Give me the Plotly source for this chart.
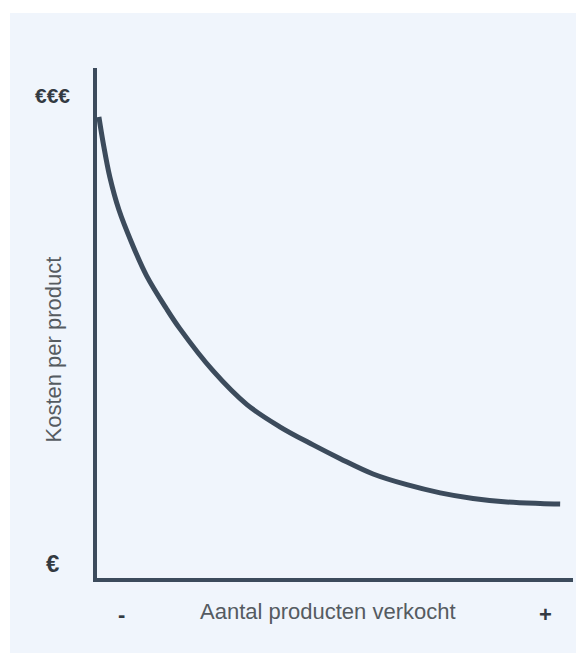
import plotly.graph_objects as go

# Curve: units sold (x, 0-100) vs cost per product (y, 0-100)
units_sold = [0.4, 1.3, 2.7, 4.6, 7.3, 10.4, 14.6, 17.4, 24.4, 31.5, 38.5,
              45.4, 51.1, 58.0, 65.1, 72.1, 79.0, 86.1, 93.1, 97.3]
cost_per_product = [90.4, 85.3, 78.6, 72.2, 65.7, 59.3, 52.8, 48.9, 40.6, 34.0, 29.6,
                    26.1, 23.4, 20.4, 18.3, 16.7, 15.6, 14.9, 14.6, 14.5]

x_tick_positions = [0.0525, 0.943]   # fraction of x axis
x_tick_labels = ["-", "+"]
y_tick_positions = [0.029, 0.947]    # fraction of y axis
y_tick_labels = ["€", "€€€"]

x_title = "Aantal producten verkocht"
y_title = "Kosten per product"

DARK = "#3c4b5c"
PANEL = "#f0f5fc"
FONT = "Liberation Sans, Arial, sans-serif"

# page has an 8px body margin -> figure coordinates = page coordinates - 8
OFF = 8
W, H = 584 - OFF, 653 - OFF
PX0, PX1, PY0, PY1 = 97, 573, 68, 578   # plot area on the page
L, R, T, B = PX0 - OFF, W - (PX1 - OFF), PY0 - OFF, H - (PY1 - OFF)
pw, ph = PX1 - PX0, PY1 - PY0


def px(xp):
    return (xp - PX0) / pw


def py(yp):
    return (PY1 - yp) / ph


fig = go.Figure()
fig.add_trace(go.Scatter(
    x=units_sold, y=cost_per_product, mode="lines",
    line=dict(color=DARK, width=5, shape="spline", smoothing=1.0),
    hoverinfo="skip", showlegend=False,
))

# light-blue panel behind everything
fig.add_shape(type="rect", xref="paper", yref="paper", layer="below",
              x0=px(10), x1=px(590), y0=py(660), y1=py(13),
              fillcolor=PANEL, line=dict(width=0))

annotations = []
for xv, lab in zip(x_tick_positions, x_tick_labels):
    annotations.append(dict(x=xv, y=py(614), xref="paper", yref="paper", text=f"<b>{lab}</b>",
                            showarrow=False, xanchor="center", yanchor="middle",
                            font=dict(family=FONT, size=22, color="#333a42")))
for yv, lab in zip(y_tick_positions, y_tick_labels):
    size = 24 if lab == "€" else 21
    annotations.append(dict(x=px(52), y=yv, xref="paper", yref="paper", text=f"<b>{lab}</b>",
                            showarrow=False, xanchor="center", yanchor="middle",
                            font=dict(family=FONT, size=size, color="#333a42")))
annotations.append(dict(x=px(327.5), y=py(611), xref="paper", yref="paper", text=x_title,
                        showarrow=False, xanchor="center", yanchor="middle",
                        font=dict(family=FONT, size=22, color="#555b61")))
annotations.append(dict(x=px(52.5), y=py(350), xref="paper", yref="paper", text=y_title,
                        textangle=-90, showarrow=False, xanchor="center", yanchor="middle",
                        font=dict(family=FONT, size=22, color="#555b61")))

fig.update_layout(
    width=W, height=H,
    margin=dict(l=L, r=R, t=T, b=B),
    paper_bgcolor="white",
    plot_bgcolor=PANEL,
    annotations=annotations,
    xaxis=dict(range=[0, 100], showgrid=False, zeroline=False, showticklabels=False,
               ticks="", showline=True, linecolor=DARK, linewidth=4, fixedrange=True),
    yaxis=dict(range=[0, 100], showgrid=False, zeroline=False, showticklabels=False,
               ticks="", showline=True, linecolor=DARK, linewidth=4, fixedrange=True),
)

fig.write_html("out.html", config={"displayModeBar": False})
